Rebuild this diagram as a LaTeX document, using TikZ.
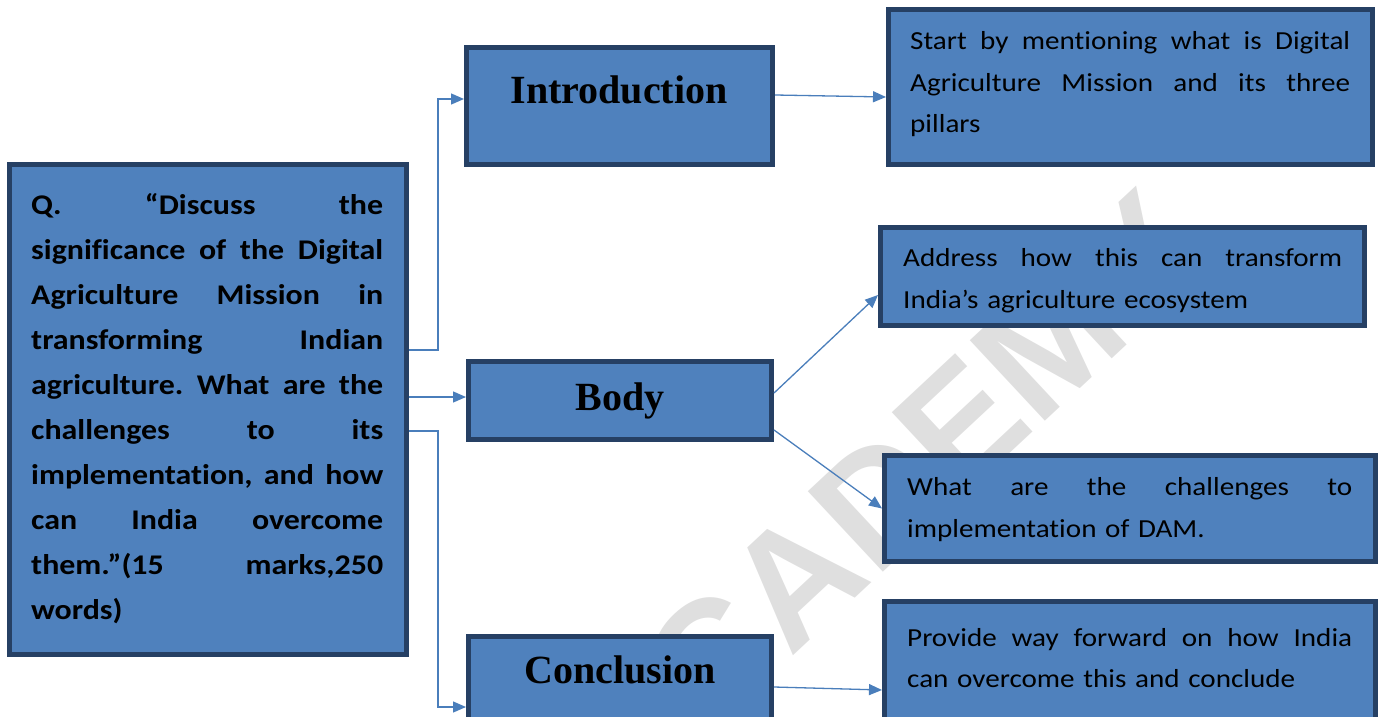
\documentclass[tikz,border=0pt]{standalone}
\usepackage{fontspec}
\usetikzlibrary{arrows.meta,calc}
\setlength{\parindent}{0pt}
\newfontfamily\bodyfont[FakeStretch=1.12,Ligatures=NoCommon]{Carlito}
\newfontfamily\headfont{Liberation Serif}
\newfontfamily\markfont{Liberation Sans}
\definecolor{boxfill}{HTML}{4F81BD}
\definecolor{boxline}{HTML}{264064}
\definecolor{linkblue}{HTML}{4A7EBB}
\definecolor{markgray}{RGB}{223,223,223}
\tikzset{
  box/.style={draw=boxline, fill=boxfill, line width=5pt, inner sep=0pt, rectangle},
  link/.style={draw=linkblue, line width=1.3pt, -{Triangle[length=13pt,width=11pt]}},
  qtext/.style={anchor=base west, inner sep=0pt, text width=352pt, align=left,
    font=\bodyfont\bfseries\fontsize{28.5}{45}\selectfont},
  notetext/.style={anchor=base west, inner sep=0pt, align=left,
    font=\bodyfont\fontsize{26}{41.5}\selectfont},
  heading/.style={anchor=base, inner sep=0pt, font=\headfont\bfseries\fontsize{40}{40}\selectfont},
}
\begin{document}
\begin{tikzpicture}[x=1pt,y=-1pt]
\useasboundingbox (0,0) rectangle (1382,717);
\clip (0,0) rectangle (1382,717);

% watermark behind everything
\node[rotate=43, text=markgray, inner sep=0pt,
      font=\markfont\bfseries\fontsize{160}{160}\selectfont] (mark) at (880,500) {ACADEMY};

% boxes
\node[box, minimum width=397pt, minimum height=490pt] (question) at (208,409.5) {};
\node[box, minimum width=306pt, minimum height=117pt] (intro) at (619.5,106) {};
\node[box, minimum width=303pt, minimum height=78pt] (body) at (620,400.5) {};
\node[box, minimum width=303pt, minimum height=101pt] (concl) at (620,687) {};
\node[box, minimum width=484pt, minimum height=155pt] (start) at (1130.5,87) {};
\node[box, minimum width=484pt, minimum height=98pt] (address) at (1122.5,276.5) {};
\node[box, minimum width=491pt, minimum height=106pt] (what) at (1130,508.5) {};
\node[box, minimum width=491pt, minimum height=136pt] (provide) at (1130,669.5) {};

% question text
\node[qtext] (qbody) at (31,214) {%
Q.\hfill “Discuss\hfill the\\
significance\hfill of\hfill the\hfill Digital\\
Agriculture\hfill Mission\hfill in\\
transforming\hfill Indian\\
agriculture.\hfill What\hfill are\hfill the\\
challenges\hfill to\hfill its\\
implementation,\hfill and\hfill how\\
can\hfill India\hfill overcome\\
them.”(15\hfill marks,250\\
words)};

% headings
\node[heading] (introlabel) at (619,103) {Introduction};
\node[heading] (bodylabel) at (620,410) {Body};
\node[heading] (concllabel) at (620,683) {Conclusion};

% notes
\node[notetext, text width=440pt] (starttext) at (910,50) {%
Start\hfill by\hfill mentioning\hfill what\hfill is\hfill Digital\\
Agriculture\hfill Mission\hfill and\hfill its\hfill three\\
pillars};
\node[notetext, text width=439pt] (addresstext) at (903,266.5) {%
Address\hfill how\hfill this\hfill can\hfill transform\\
India’s agriculture ecosystem};
\node[notetext, text width=445pt] (whattext) at (907,495.5) {%
What\hfill are\hfill the\hfill challenges\hfill to\\
implementation of DAM.};
\node[notetext, text width=445pt] (providetext) at (907,646) {%
Provide\hfill way\hfill forward\hfill on\hfill how\hfill India\\
can overcome this and conclude};

% connectors
\draw[link] ([yshift=59.5pt]question.east) -- ++(29,0) |- ([yshift=7pt]intro.west);
\draw[link] ([yshift=12.5pt]question.east) -- ([yshift=3.5pt]body.west);
\draw[link] ([yshift=-21.5pt]question.east) -- ++(29,0) |- ([yshift=-20pt]concl.west);
\draw[link] ([yshift=11pt]intro.east) -- ([yshift=-10pt]start.west);
\draw[link] ([yshift=7.5pt]body.east) -- ([yshift=-18.5pt]address.west);
\draw[link] ([yshift=-29.5pt]body.east) -- (what.west);
\draw[link] (concl.east) -- ([yshift=-20.5pt]provide.west);
\end{tikzpicture}
\end{document}
